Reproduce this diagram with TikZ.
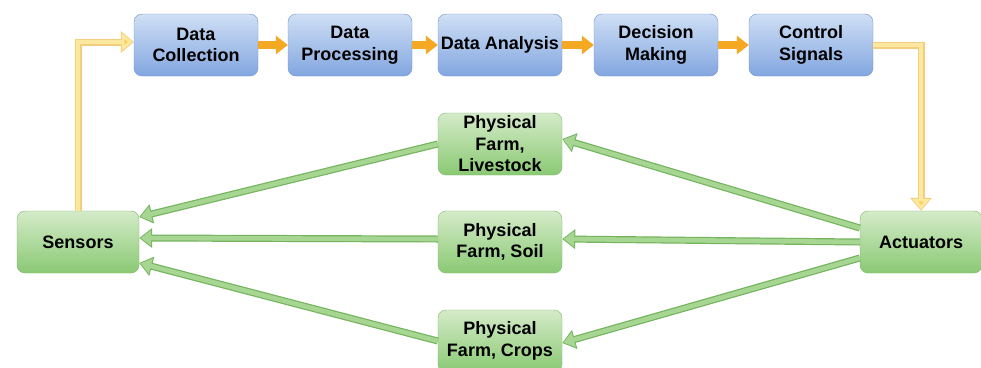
\documentclass[tikz,border=0pt]{standalone}
\usepackage{fontspec}
\setmainfont{Liberation Sans}
\usetikzlibrary{arrows.meta}

\definecolor{bluetop}{RGB}{207,223,245}
\definecolor{bluebot}{RGB}{130,166,224}
\definecolor{blueedge}{RGB}{112,146,205}
\definecolor{greentop}{RGB}{212,235,200}
\definecolor{greenbot}{RGB}{138,201,116}
\definecolor{greenedge}{RGB}{128,182,108}
\definecolor{flowc}{RGB}{245,168,33}
\definecolor{feededge}{RGB}{242,206,126}
\definecolor{feedfill}{RGB}{253,232,160}
\definecolor{feedtip}{RGB}{251,210,92}
\definecolor{linkedge}{RGB}{116,180,94}
\definecolor{linkfill}{RGB}{166,214,146}

\tikzset{
  box/.style={rounded corners=8pt, minimum width=124pt, minimum height=62pt,
    inner sep=0pt, align=center, font=\fontsize{18}{21.5}\selectfont\bfseries},
  topbox/.style={box, draw=blueedge, top color=bluetop, bottom color=bluebot},
  farmbox/.style={box, draw=greenedge, top color=greentop, bottom color=greenbot},
  flow/.style={draw=flowc, line width=8pt, -{Triangle[width=18pt,length=12pt]}},
  feed/.style={draw=feededge, line width=7pt, -{Triangle[width=21pt,length=13pt]},
    postaction={draw=feedfill, line width=4.6pt, shorten >=1.4pt,
      -{Triangle[width=17pt,length=10.6pt,fill=feedtip]}}},
  link/.style={draw=linkedge, line width=7pt, -{Triangle[width=19pt,length=13pt]},
    postaction={draw=linkfill, line width=4.6pt, shorten >=1.4pt,
      -{Triangle[width=15pt,length=10.6pt]}}}
}

\begin{document}
\begin{tikzpicture}[x=1pt,y=-1pt]
\path[use as bounding box, fill=white] (0,0) rectangle (981,367);

\node[topbox] (coll) at (196,45) {Data\\Collection};
\node[topbox] (proc) at (350,45) {Data\\Processing};
\node[topbox] (anal) at (500,45) {Data Analysis};
\node[topbox] (deci) at (656,45) {Decision\\Making};
\node[topbox] (ctrl) at (811,45) {Control\\Signals};

\node[farmbox, minimum width=122pt] (sens) at (78,242) {Sensors};
\node[farmbox, minimum width=122pt] (act) at (921,242) {Actuators};
\node[farmbox] (liv) at (500,144) {Physical\\Farm,\\Livestock};
\node[farmbox] (soil) at (500,242) {Physical\\Farm, Soil};
\node[farmbox] (crop) at (500,341) {Physical\\Farm, Crops};

\draw[flow] (coll) -- (proc);
\draw[flow] (proc) -- (anal);
\draw[flow] (anal) -- (deci);
\draw[flow] (deci) -- (ctrl);

\draw[feed] (sens.north) |- ([yshift=3pt]coll.west);
\draw[feed] (ctrl.east) -| (act.north);

\draw[link] (liv.west) -- ([yshift=25pt]sens.east);
\draw[link] ([yshift=3pt]soil.west) -- ([yshift=4pt]sens.east);
\draw[link] (crop.west) -- ([yshift=-21pt]sens.east);
\draw[link] ([yshift=14pt]act.west) -- ([yshift=5pt]liv.east);
\draw[link] (act.west) -- ([yshift=3pt]soil.east);
\draw[link] ([yshift=-16pt]act.west) -- ([yshift=-2pt]crop.east);
\end{tikzpicture}
\end{document}
